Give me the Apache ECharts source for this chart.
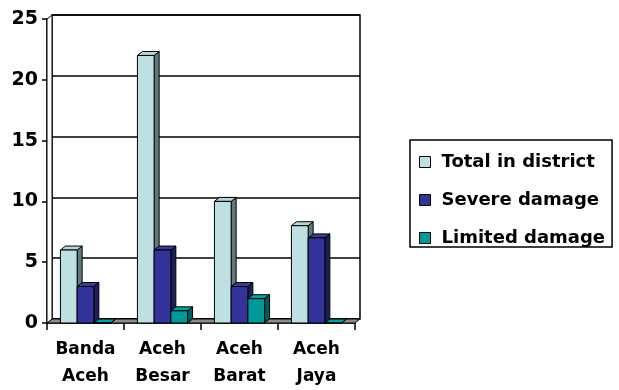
<!DOCTYPE html>
<html>
<head>
<meta charset="utf-8">
<script src="https://cdn.jsdelivr.net/npm/echarts@6/dist/echarts.min.js"></script>
<style>
  html, body { margin: 0; padding: 0; background: #fff; }
  #chart { width: 619px; height: 390px; }
</style>
</head>
<body>
<div id="chart"></div>
<script>
// Districts and counts
const districts = ['Banda\nAceh', 'Aceh\nBesar', 'Aceh\nBarat', 'Aceh\nJaya'];
const totalInDistrict = [6, 22, 10, 8];
const severeDamage = [3, 6, 3, 7];
const limitedDamage = [0, 1, 2, 0];
const seriesNames = ['Total in district', 'Severe damage', 'Limited damage'];
const yTicks = [0, 5, 10, 15, 20, 25];

// Face colours per series: front, top, side
const faces = [
  { front: '#bfe0e3', top: '#b3d6d9', side: '#5f7a7c' },
  { front: '#333399', top: '#3a3a9e', side: '#1e1e5a' },
  { front: '#009999', top: '#00a3a3', side: '#005c5c' }
];

// depth offset of the 3D look (back wall relative to front)
const DX = 5, DY = -4;
const FONT = 'DejaVu Sans';

const chart = echarts.init(document.getElementById('chart'), null, { renderer: 'canvas' });

function barItem(seriesIdx) {
  return function (params, api) {
    const cat = api.value(0);
    const val = api.value(1);
    const top = api.coord([cat, val]);
    const base = api.coord([cat, 0]);
    const band = api.size([1, 0])[0];
    const w = band * 0.217;
    const x0 = top[0] - 1.5 * w + seriesIdx * w;
    const x1 = x0 + w;
    const yt = top[1], yb = base[1];
    const f = faces[seriesIdx];
    const stroke = { stroke: '#000', lineWidth: 1 };
    return {
      type: 'group',
      children: [
        { type: 'polygon', shape: { points: [[x1, yt], [x1 + DX, yt + DY], [x1 + DX, yb + DY], [x1, yb]] },
          style: Object.assign({ fill: f.side }, stroke) },
        { type: 'polygon', shape: { points: [[x0, yt], [x0 + DX, yt + DY], [x1 + DX, yt + DY], [x1, yt]] },
          style: Object.assign({ fill: f.top }, stroke) },
        { type: 'rect', shape: { x: x0, y: yt, width: w, height: yb - yt },
          style: Object.assign({ fill: f.front }, stroke) }
      ]
    };
  };
}

function wallsItem(params, api) {
  const cs = params.coordSys;
  const x = cs.x, y = cs.y, w = cs.width, h = cs.height;
  return {
    type: 'group',
    children: [
      // floor
      { type: 'polygon', shape: { points: [[x, y + h], [x + w, y + h], [x + w + DX, y + h + DY], [x + DX, y + h + DY]] },
        style: { fill: '#8c8c8c', stroke: '#000', lineWidth: 1 } },
      // left side wall
      { type: 'polygon', shape: { points: [[x, y + h], [x, y], [x + DX, y + DY], [x + DX, y + h + DY]] },
        style: { fill: '#fff', stroke: '#000', lineWidth: 1 } }
    ]
  };
}

const seriesData = [totalInDistrict, severeDamage, limitedDamage];

const option = {
  animation: false,
  backgroundColor: '#fff',
  grid: [
    // back wall
    { left: 52, top: 15, width: 308, height: 304, show: true, borderColor: '#000', borderWidth: 1.5, backgroundColor: '#fff' },
    // front plane carrying the axes and the bars
    { left: 47, top: 19, width: 308, height: 304 }
  ],
  xAxis: [
    { type: 'category', gridIndex: 0, data: districts, show: false },
    { type: 'category', gridIndex: 1, data: districts,
      axisLine: { lineStyle: { color: '#000', width: 1.5 } },
      axisTick: { show: true, length: 7, lineStyle: { color: '#000', width: 1.5 } },
      axisLabel: { color: '#000', fontFamily: FONT, fontWeight: 'bold', fontSize: 17, lineHeight: 27, margin: 13, interval: 0 }
    }
  ],
  yAxis: [
    { type: 'value', gridIndex: 0, min: 0, max: 25, interval: 5,
      axisLine: { show: false }, axisTick: { show: false }, axisLabel: { show: false },
      splitLine: { lineStyle: { color: '#000', width: 1.5 } } },
    { type: 'value', gridIndex: 1, min: yTicks[0], max: yTicks[yTicks.length - 1], interval: 5,
      axisLine: { show: true, lineStyle: { color: '#000', width: 1.5 } },
      axisTick: { show: true, length: 5, lineStyle: { color: '#000', width: 1.5 } },
      axisLabel: { color: '#000', fontFamily: FONT, fontWeight: 'bold', fontSize: 19, margin: 9 },
      splitLine: { show: false } }
  ],
  legend: {
    orient: 'vertical',
    left: 410, top: 140,
    padding: [13, 7, 0, 9],
    itemGap: 20,
    itemWidth: 11, itemHeight: 11,
    icon: 'rect',
    borderColor: '#000', borderWidth: 1.5,
    textStyle: { color: '#000', fontFamily: FONT, fontWeight: 'bold', fontSize: 18, padding: [0, 0, 0, 6] },
    itemStyle: { borderColor: '#000', borderWidth: 1 },
    data: seriesNames
  },
  series: [
    { type: 'custom', name: 'walls', xAxisIndex: 1, yAxisIndex: 1, z: 1, silent: true,
      renderItem: wallsItem, data: [[0, 0]] }
  ].concat(seriesData.map((vals, i) => ({
    type: 'custom',
    name: seriesNames[i],
    xAxisIndex: 1, yAxisIndex: 1,
    z: 2 + i,
    itemStyle: { color: faces[i].front },
    renderItem: barItem(i),
    encode: { x: 0, y: 1 },
    data: vals.map((v, k) => [k, v])
  })))
};

chart.setOption(option);
</script>
</body>
</html>
